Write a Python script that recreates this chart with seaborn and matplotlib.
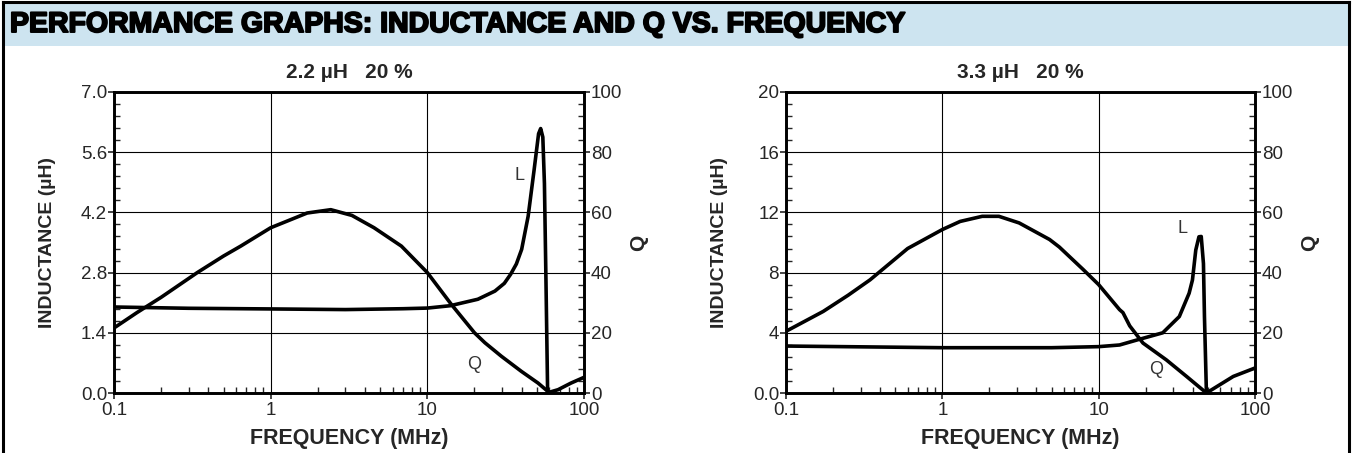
import numpy as np
import pandas as pd
import matplotlib
matplotlib.use("Agg")
import matplotlib.pyplot as plt
import matplotlib.ticker as mticker
from matplotlib.patches import Rectangle
from matplotlib.lines import Line2D
import matplotlib.patheffects as pe
import seaborn as sns

# ---------------- data ----------------
header_title = "PERFORMANCE GRAPHS: INDUCTANCE AND Q VS. FREQUENCY"
chart_titles = ["2.2 \u00b5H   20 %", "3.3 \u00b5H   20 %"]
x_tick_labels = ["0.1", "1", "10", "100"]
L1_tick_labels = ["0.0", "1.4", "2.8", "4.2", "5.6", "7.0"]
L2_tick_labels = ["0.0", "4", "8", "12", "16", "20"]
Q_tick_labels = ["0", "20", "40", "60", "80", "100"]

# 2.2 uH chart
L1_freq = [0.1, 0.3, 1, 3, 7, 10, 14, 21, 27, 31, 34, 37, 40, 44, 48, 51.3, 52.9, 54.6, 55.9, 57.2, 58.6]
L1_val = [2.00, 1.97, 1.955, 1.94, 1.96, 1.975, 2.03, 2.18, 2.37, 2.55, 2.76, 3.0, 3.34, 4.11, 5.18, 6.03, 6.15, 5.95, 4.87, 2.57, 0.0]
Q1_freq = [0.1, 0.14, 0.2, 0.34, 0.5, 0.644, 1.0, 1.71, 2.42, 3.3, 4.57, 6.83, 10, 14.2, 17, 20, 23.3, 29.7, 39.8, 50.9, 58.9, 60.5, 68.3, 82.6, 100]
Q1_val = [21.6, 26.7, 31.8, 40.0, 45.5, 48.8, 54.9, 59.8, 60.9, 59.0, 54.9, 48.8, 40.0, 29.5, 24.5, 20.0, 16.7, 12.2, 7.2, 3.3, 0.5, 0.3, 1.1, 3.3, 5.2]

# 3.3 uH chart
L2_freq = [0.1, 1, 5, 10, 13.6, 18.1, 25.7, 32.8, 37.9, 39.8, 41.8, 43.8, 45.3, 46.8, 47.5, 48.9]
L2_val = [3.12, 3.01, 3.01, 3.08, 3.19, 3.56, 4.0, 5.08, 6.63, 7.51, 9.5, 10.38, 10.4, 8.6, 5.08, 0.0]
Q2_freq = [0.1, 0.173, 0.25, 0.345, 0.6, 1.0, 1.3, 1.8, 2.3, 3.1, 4.85, 5.6, 7.93, 10, 13.6, 14.3, 15.8, 19.2, 27.1, 36.5, 48.9, 72.6, 100]
Q2_val = [20.5, 27.1, 32.5, 37.6, 48.0, 54.3, 57.0, 58.7, 58.7, 56.5, 51.0, 48.5, 41.1, 36.0, 27.7, 26.7, 22.3, 16.6, 11.0, 5.5, 0.0, 5.5, 8.3]

# annotation label positions (freq, inductance)
L1_label_pos = (38.9, 5.05)
Q1_label_pos = (19.8, 0.67)
L2_label_pos = (34.4, 10.9)
Q2_label_pos = (23.4, 1.55)

# ---------------- style ----------------
sns.set_style("white")
plt.rcParams["font.family"] = ["Liberation Sans", "DejaVu Sans"]
plt.rcParams["axes.unicode_minus"] = False

W, H = 1352, 453
fig = plt.figure(figsize=(W / 100, H / 100), dpi=100)
fig.patch.set_facecolor("white")

# header band and frame
fig.patches.append(Rectangle((3 / W, (H - 46) / H), (1349 - 3) / W, 42 / H,
                             transform=fig.transFigure, facecolor="#cde4f0",
                             edgecolor="none", zorder=0))
for (x0, y0, x1, y1) in [(3, 2, 1349, 2), (3, 2, 3, H), (1349, 2, 1349, H)]:
    fig.lines.append(Line2D([x0 / W, x1 / W], [(H - y0) / H, (H - y1) / H],
                            transform=fig.transFigure, color="black", lw=2.2,
                            solid_capstyle="projecting"))
fig.text(10 / W, (H - 25) / H, header_title, fontsize=20.5, fontweight="bold",
         color="black", ha="left", va="center", family=["Liberation Sans", "DejaVu Sans"],
         path_effects=[pe.withStroke(linewidth=1.4, foreground="black")])

axes_px = [(114, 584), (786, 1255)]
top_px, bot_px = 92, 393

configs = [
    dict(Lf=L1_freq, Lv=L1_val, Qf=Q1_freq, Qv=Q1_val, Lmax=7.0, Lstep=1.4, Lminor=0.28,
         Llabels=L1_tick_labels, title=chart_titles[0], Lpos=L1_label_pos, Qpos=Q1_label_pos),
    dict(Lf=L2_freq, Lv=L2_val, Qf=Q2_freq, Qv=Q2_val, Lmax=20.0, Lstep=4.0, Lminor=0.8,
         Llabels=L2_tick_labels, title=chart_titles[1], Lpos=L2_label_pos, Qpos=Q2_label_pos),
]

tick_fs = 13.5
spine_lw = 1.9
curve_lw = 2.6

for (xl, xr), c in zip(axes_px, configs):
    ax = fig.add_axes([xl / W, (H - bot_px) / H, (xr - xl) / W, (bot_px - top_px) / H])
    ax2 = ax.twinx()

    dfL = pd.DataFrame({"freq": c["Lf"], "val": c["Lv"]})
    dfQ = pd.DataFrame({"freq": c["Qf"], "val": c["Qv"]})
    sns.lineplot(data=dfL, x="freq", y="val", ax=ax, color="black", lw=curve_lw,
                 sort=False, estimator=None, zorder=5)
    sns.lineplot(data=dfQ, x="freq", y="val", ax=ax2, color="black", lw=curve_lw,
                 sort=False, estimator=None, zorder=5)

    for a in (ax, ax2):
        a.set_xscale("log")
        a.set_xlim(0.1, 100)
        for s in a.spines.values():
            s.set_linewidth(spine_lw)
            s.set_color("black")
    ax.set_ylim(0, c["Lmax"])
    ax2.set_ylim(0, 100)

    # x ticks
    ax.xaxis.set_major_locator(mticker.FixedLocator([0.1, 1, 10, 100]))
    ax.xaxis.set_major_formatter(mticker.FixedFormatter(x_tick_labels))
    ax.xaxis.set_minor_locator(mticker.LogLocator(base=10, subs=np.arange(2, 10), numticks=20))
    ax.xaxis.set_minor_formatter(mticker.NullFormatter())
    ax.tick_params(axis="x", which="major", direction="out", length=4, width=1.2,
                   labelsize=tick_fs, pad=2.5, bottom=True, top=False)
    ax.tick_params(axis="x", which="minor", direction="in", length=4, width=1.0, bottom=True, top=False)

    # L y ticks
    Lticks = [i * c["Lstep"] for i in range(6)]
    ax.yaxis.set_major_locator(mticker.FixedLocator(Lticks))
    ax.yaxis.set_major_formatter(mticker.FixedFormatter(c["Llabels"]))
    ax.yaxis.set_minor_locator(mticker.MultipleLocator(c["Lminor"]))
    ax.tick_params(axis="y", which="major", direction="out", length=4, width=1.2,
                   labelsize=tick_fs, pad=1, left=True, right=False)
    ax.tick_params(axis="y", which="minor", direction="in", length=4, width=1.0, left=True, right=False)

    # Q y ticks
    ax2.yaxis.set_major_locator(mticker.FixedLocator([0, 20, 40, 60, 80, 100]))
    ax2.yaxis.set_major_formatter(mticker.FixedFormatter(Q_tick_labels))
    ax2.yaxis.set_minor_locator(mticker.MultipleLocator(4))
    ax2.tick_params(axis="y", which="major", direction="out", length=4, width=1.2,
                    labelsize=tick_fs, pad=1, right=True, left=False)
    ax2.tick_params(axis="y", which="minor", direction="in", length=4, width=1.0, right=True, left=False)
    ax2.tick_params(axis="x", which="both", bottom=False, top=False, labelbottom=False)

    # grid
    ax.grid(True, which="major", axis="both", color="black", lw=0.8)
    ax.set_axisbelow(True)
    ax2.grid(False)

    # labels
    ax.set_xlabel("FREQUENCY (MHz)", fontsize=15.5, fontweight="bold")
    ax.xaxis.set_label_coords(0.5, -0.116)
    ax.set_ylabel("INDUCTANCE (\u00b5H)", fontsize=14, fontweight="bold")
    ax.yaxis.set_label_coords(-0.123, 0.5)
    ax2.set_ylabel("Q", fontsize=15, fontweight="bold", rotation=90)
    ax2.yaxis.set_label_coords(1.097, 0.5)
    ax.set_title(c["title"], fontsize=15, fontweight="bold", y=1.066, va="center", pad=0)

    ax.text(c["Lpos"][0], c["Lpos"][1], "L", fontsize=13, color="#333333", ha="center", va="center")
    ax.text(c["Qpos"][0], c["Qpos"][1], "Q", fontsize=13, color="#333333", ha="center", va="center")

fig.savefig("out.png", dpi=100)
